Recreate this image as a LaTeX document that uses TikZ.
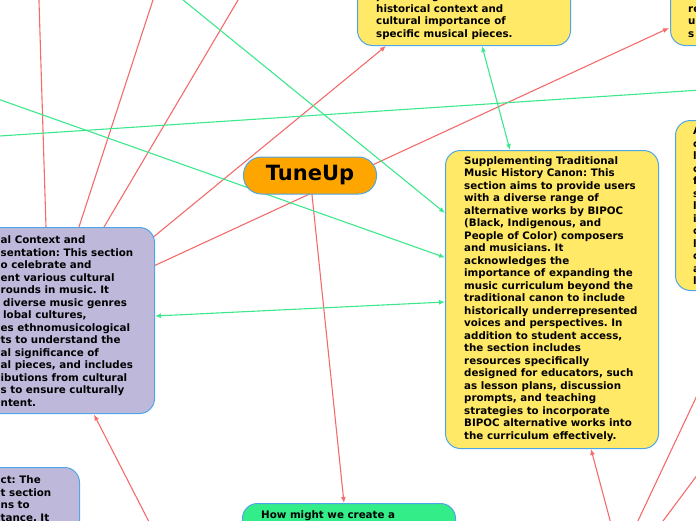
\documentclass[tikz,border=0pt]{standalone}
\usepackage{fontspec}
\setmainfont{DejaVu Sans}
\usetikzlibrary{arrows.meta,calc}
\frenchspacing
\definecolor{boxy}{HTML}{FFE966}
\definecolor{boxl}{HTML}{BEB8DB}
\definecolor{boxg}{HTML}{33EE88}
\definecolor{boxo}{HTML}{FFA500}
\definecolor{edge}{HTML}{4EA6E6}
\definecolor{lred}{HTML}{F46B6B}
\definecolor{lgreen}{HTML}{3CE88B}
\pgfdeclarelayer{bg}
\pgfsetlayers{bg,main}
\tikzset{
 card/.style={draw=edge, line width=1pt, rounded corners=15pt, inner sep=0pt},
 ycard/.style={card, fill=boxy},
 lcard/.style={card, fill=boxl},
 gcard/.style={card, fill=boxg},
 txt/.style={align=left, inner sep=0pt, font=\fontsize{10.3}{12.5}\selectfont\bfseries\frenchspacing, anchor=west},
 redline/.style={draw=lred, line width=1.1pt},
 greenline/.style={draw=lgreen, line width=1.1pt},
 tip/.style={-{Latex[length=6pt,width=5pt]}},
 tips/.style={{Latex[length=6pt,width=5pt]}-{Latex[length=6pt,width=5pt]}},
}
\begin{document}
\begin{tikzpicture}[x=1pt,y=-1pt]
\useasboundingbox (0,0) rectangle (696,520);
\clip (0,0) rectangle (696,520);
% cards
\node[ycard, minimum width=213pt, minimum height=298pt, anchor=north west] (sup) at (445,150) {};
\node[txt] (suptxt) at (464,299) {Supplementing Traditional\\Music History Canon: This\\section aims to provide users\\with a diverse range of\\alternative works by BIPOC\\(Black, Indigenous, and\\People of Color) composers\\and musicians. It\\acknowledges the\\importance of expanding the\\music curriculum beyond the\\traditional canon to include\\historically underrepresented\\voices and perspectives. In\\addition to student access,\\the section includes\\resources specifically\\designed for educators, such\\as lesson plans, discussion\\prompts, and teaching\\strategies to incorporate\\BIPOC alternative works into\\the curriculum effectively.};
\node[ycard, minimum width=213pt, minimum height=90pt, anchor=south west] (hist) at (357,46) {};
\node[txt] (histtxt) at (376,15.5) {presenting users with\\historical context and\\cultural importance of\\specific musical pieces.};
\node[ycard, minimum width=60pt, minimum height=90pt, anchor=south west] (tr) at (670,46) {};
\node[txt] (trtxt) at (688,22) {re\\u\\s};
\node[ycard, minimum width=60pt, minimum height=170pt, anchor=north west] (rb) at (675,120) {};
\node[txt] (rbtxt) at (693,206) {A\\c\\l\\c\\f\\s\\l\\i\\c\\l\\c\\a\\l};
\node[draw=edge, line width=1pt, fill=boxo, rounded corners=18pt, minimum width=133pt, minimum height=37pt, inner sep=0pt, font=\fontsize{21}{25}\selectfont\bfseries] (tune) at (310,175.5) {TuneUp};
\node[lcard, minimum width=180pt, minimum height=186pt, anchor=north east] (cult) at (155,227) {};
\node[txt] (culttxt) at (0.5,321) {al Context and\\sentation: This section\\o celebrate and\\ent various cultural\\rounds in music. It\\\hspace*{2.5pt}diverse music genres\\\hspace*{2.5pt}lobal cultures,\\es ethnomusicological\\ts to understand the\\al significance of\\al pieces, and includes\\ibutions from cultural\\s to ensure culturally\\ntent.};
\node[lcard, minimum width=100pt, minimum height=80pt, anchor=north east] (impact) at (80,467) {};
\node[txt] (impacttxt) at (0.5,498.8) {ct: The\\t section\\ns to\\tance. It};
\node[gcard, minimum width=213pt, minimum height=60pt, anchor=north west] (goal) at (242,503) {};
\node[txt] (goaltxt) at (261,516) {How might we create a};
% connectors
\begin{pgfonlayer}{bg}
\coordinate (fA) at (38.8,-5);
\coordinate (fB) at (154.6,-5);
\coordinate (fC) at (241,-5);
\coordinate (fD) at (150.6,525);
\coordinate (fE) at (611.3,525);
\coordinate (fF) at (636,525);
\coordinate (fG) at (701,387);
\coordinate (fH) at (660,525);
\coordinate (fI) at (701,470);
\coordinate (fJ) at (-5,98);
\coordinate (fK) at (-5,136.3);
\coordinate (fL) at (701,90);
\coordinate (fM) at (177,-5);
\draw[redline] ($(cult.north east)+(-108.7,10)$) -- (fA);
\draw[redline] ($(cult.north east)+(-79.3,10)$) -- (fB);
\draw[redline] ($(cult.north east)+(-56.9,10)$) -- (fC);
\draw[redline,tip] ($(cult.north east)+(-15,21)$) -- ($(hist.south west)+(29,0)$);
\draw[redline,tip] ($(cult.north east)+(-10,43)$) -- ($(tr.south west)+(-1,-18)$);
\draw[redline,tip] (tune.center) -- ($(goal.north west)+(102,0)$);
\draw[redline,tip] (fD) -- ($(cult.south east)+(-61,0.5)$);
\draw[redline,tip] (fE) -- ($(sup.south west)+(146,0)$);
\draw[redline] (fF) -- (fG);
\draw[redline] (fH) -- (fI);
\draw[greenline,tip] (fJ) -- ($(sup.north west)+(0,107.5)$);
\draw[greenline] (fK) -- (fL);
\draw[greenline,tip] (fM) -- ($(sup.north west)+(0,63)$);
\draw[greenline,tips] ($(hist.south west)+(125,0)$) -- ($(sup.north west)+(65,0)$);
\draw[greenline,tips] ($(cult.north east)+(0,89)$) -- ($(sup.north west)+(0,152)$);
\end{pgfonlayer}
\end{tikzpicture}
\end{document}
